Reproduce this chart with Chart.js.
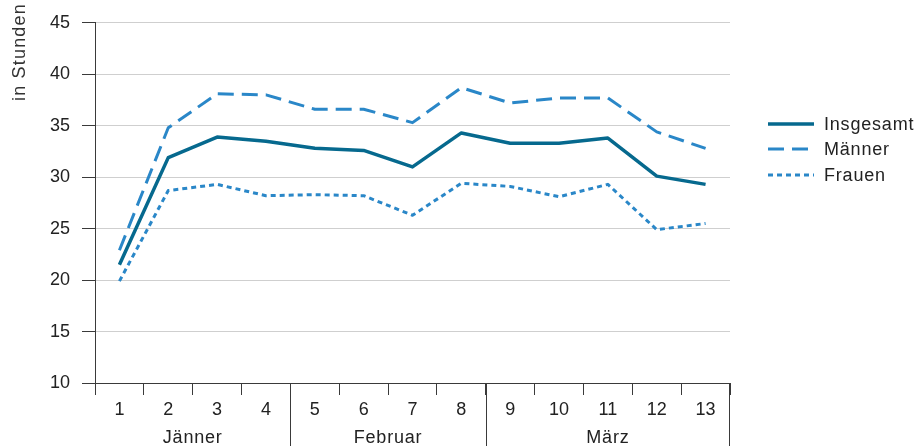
<!DOCTYPE html>
<html>
<head>
<meta charset="utf-8">
<script src="https://cdn.jsdelivr.net/npm/chart.js@4/dist/chart.umd.min.js"></script>
<style>
  html, body { margin:0; padding:0; background:#fff; }
  #wrap { width:916px; height:446px; position:relative; }
</style>
</head>
<body>
<div id="wrap"><canvas id="chart"></canvas></div>
<script>
// Data
const weeks = ['1','2','3','4','5','6','7','8','9','10','11','12','13'];
const months = ['Jänner','Februar','März'];
const monthWeeks = [4, 4, 5];
const insgesamt = [21.5, 31.9, 33.9, 33.5, 32.8, 32.6, 31.0, 34.3, 33.3, 33.3, 33.8, 30.1, 29.3];
const maenner = [22.9, 34.8, 38.1, 38.0, 36.6, 36.6, 35.3, 38.7, 37.2, 37.7, 37.7, 34.4, 32.8];
const frauen = [19.9, 28.7, 29.3, 28.2, 28.3, 28.2, 26.3, 29.4, 29.1, 28.1, 29.3, 24.9, 25.5];
const yTitle = 'in Stunden';

const FONT = '"Liberation Sans", Arial, sans-serif';
const dark = '#3a3a3a';
const c1 = '#06698e';
const c2 = '#2a87c8';

// Month groups, y title and legend drawn by hand
const extras = {
  id: 'extras',
  afterDraw(chart){
    const ctx = chart.ctx;
    const x = chart.scales.x;
    const area = chart.chartArea;
    const half = (x.getPixelForValue(1) - x.getPixelForValue(0)) / 2;
    ctx.save();
    ctx.strokeStyle = dark;
    ctx.lineWidth = 1;
    ctx.fillStyle = '#222';
    ctx.font = '18px ' + FONT;
    ctx.letterSpacing = '0.8px';
    ctx.textAlign = 'center';
    ctx.textBaseline = 'alphabetic';
    let start = 0;
    months.forEach((m, i) => {
      const end = start + monthWeeks[i] - 1;
      const l = x.getPixelForValue(start) - half;
      const r = x.getPixelForValue(end) + half;
      ctx.fillText(m, (l + r) / 2, 443);
      if(i > 0){
        ctx.beginPath();
        ctx.moveTo(Math.round(l) + .5, area.bottom);
        ctx.lineTo(Math.round(l) + .5, chart.height);
        ctx.stroke();
      }
      start = end + 1;
    });
    ctx.beginPath();
    ctx.moveTo(Math.round(area.right) - .5, area.bottom);
    ctx.lineTo(Math.round(area.right) - .5, chart.height);
    ctx.stroke();

    // y title
    ctx.save();
    ctx.letterSpacing = '1.2px';
    ctx.translate(25, 3);
    ctx.rotate(-Math.PI / 2);
    ctx.textAlign = 'right';
    ctx.fillStyle = '#333';
    ctx.fillText(yTitle, 0, 0);
    ctx.restore();

    // legend
    const ys = [124, 149, 175];
    chart.data.datasets.forEach((ds, i) => {
      ctx.save();
      ctx.strokeStyle = ds.borderColor;
      ctx.lineWidth = ds.borderWidth;
      ctx.setLineDash(ds.borderDash || []);
      ctx.beginPath();
      ctx.moveTo(768, ys[i]);
      ctx.lineTo(814, ys[i]);
      ctx.stroke();
      ctx.restore();
      ctx.textAlign = 'left';
      ctx.textBaseline = 'middle';
      ctx.fillStyle = '#222';
      ctx.fillText(ds.label, 824, ys[i] + 1);
    });
    ctx.restore();
  }
};

new Chart(document.getElementById('chart'), {
  type: 'line',
  data: {
    labels: weeks,
    datasets: [
      { label: 'Insgesamt', data: insgesamt, borderColor: c1, borderWidth: 3.5 },
      { label: 'Männer', data: maenner, borderColor: c2, borderWidth: 3, borderDash: [16, 8] },
      { label: 'Frauen', data: frauen, borderColor: c2, borderWidth: 3, borderDash: [5, 4] },
    ]
  },
  options: {
    responsive: true,
    maintainAspectRatio: false,
    animation: false,
    events: [],
    layout: { padding: { top: 14, right: 186, left: 0, bottom: 0 } },
    elements: { point: { radius: 0 }, line: { tension: 0, borderCapStyle: 'butt', borderJoinStyle: 'round' } },
    plugins: { legend: { display: false }, tooltip: { enabled: false } },
    scales: {
      x: {
        offset: true,
        grid: { offset: true, drawOnChartArea: false, tickLength: 12, color: dark },
        border: { display: true, color: dark },
        ticks: { color: '#222', font: { family: FONT, size: 18 }, padding: 4, maxRotation: 0, autoSkip: false },
        afterFit(s){ s.height = 63; }
      },
      y: {
        min: 10, max: 45,
        grid: { color: '#cfcfcf', tickColor: dark, tickLength: 13 },
        border: { display: true, color: dark },
        ticks: { stepSize: 5, color: '#222', font: { family: FONT, size: 18 }, padding: 12 },
        afterFit(s){ s.width = 95; }
      }
    }
  },
  plugins: [extras]
});
</script>
</body>
</html>
